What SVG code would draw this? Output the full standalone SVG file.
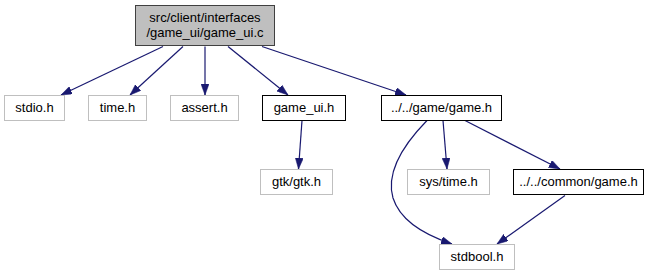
<svg xmlns="http://www.w3.org/2000/svg" width="658" height="276" viewBox="0 0 658 276">
  <style>
    .box { fill: #ffffff; stroke: #bfbfbf; stroke-width: 1; }
    .doc { fill: #ffffff; stroke: #000000; stroke-width: 1; }
    .main { fill: #bfbfbf; stroke: #404040; stroke-width: 1; }
    text { font-family: "Liberation Sans", Arial, sans-serif; font-size: 13px; fill: #000000; text-anchor: middle; }
    .edge { fill: none; stroke: #191970; stroke-width: 1.2; marker-end: url(#arrow); }
  </style>
  <defs>
    <marker id="arrow" viewBox="0 0 11 8" refX="11" refY="4" markerWidth="11" markerHeight="8" markerUnits="userSpaceOnUse" orient="auto">
      <path d="M0,0 L11,4 L0,8 Z" fill="#191970" stroke="#191970" stroke-width="0.5"/>
    </marker>
  </defs>
  <rect width="658" height="276" fill="#ffffff"/>

  <!-- include edges -->
  <g id="edges">
    <path class="edge" d="M163,46.5 L61,95"/>
    <path class="edge" d="M183,46.5 L130,95"/>
    <path class="edge" d="M205,46.5 L205,95"/>
    <path class="edge" d="M228,46.5 L288,95"/>
    <path class="edge" d="M262,46.5 L406,95"/>
    <path class="edge" d="M302,120.5 L298.5,169"/>
    <path class="edge" d="M443,120.5 L447,169"/>
    <path class="edge" d="M465,120.5 L560,169"/>
    <path class="edge" d="M427,120.5 C406,142 385,170 393,198 C400,220 425,235 452,244"/>
    <path class="edge" d="M565,195.5 L497,244"/>
  </g>

  <g id="node-main">
    <rect class="main" x="135.5" y="5.5" width="139" height="40"/>
    <text x="205" y="22">src/client/interfaces</text>
    <text x="205" y="37">/game_ui/game_ui.c</text>
  </g>
  <g id="node-stdio">
    <rect class="box" x="4.5" y="95.5" width="60" height="25"/>
    <text x="34.5" y="112">stdio.h</text>
  </g>
  <g id="node-time">
    <rect class="box" x="88.5" y="95.5" width="58" height="25"/>
    <text x="117.5" y="112">time.h</text>
  </g>
  <g id="node-assert">
    <rect class="box" x="170.5" y="95.5" width="68" height="25"/>
    <text x="204.5" y="112">assert.h</text>
  </g>
  <g id="node-game-ui-h">
    <rect class="doc" x="262.5" y="95.5" width="83" height="25"/>
    <text x="304" y="112">game_ui.h</text>
  </g>
  <g id="node-game-h">
    <rect class="doc" x="381.5" y="95.5" width="120" height="25"/>
    <text x="441.5" y="112">../../game/game.h</text>
  </g>
  <g id="node-gtk">
    <rect class="box" x="260.5" y="169.5" width="72" height="25"/>
    <text x="296.5" y="186">gtk/gtk.h</text>
  </g>
  <g id="node-sys-time">
    <rect class="box" x="407.5" y="169.5" width="82" height="25"/>
    <text x="448.5" y="186">sys/time.h</text>
  </g>
  <g id="node-common-game">
    <rect class="doc" x="513.5" y="169.5" width="130" height="25"/>
    <text x="578.5" y="186">../../common/game.h</text>
  </g>
  <g id="node-stdbool">
    <rect class="box" x="439.5" y="244.5" width="75" height="25"/>
    <text x="477" y="261">stdbool.h</text>
  </g>
</svg>
